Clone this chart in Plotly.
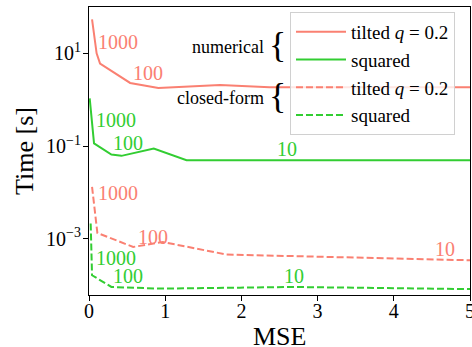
import math
import plotly.graph_objects as go

# ---- data ----
num_tilted_x = [0.04, 0.10, 0.145, 0.54, 0.91, 1.72, 2.37, 5.0]
num_tilted_y = [54, 10, 6.0, 2.3, 1.78, 2.07, 1.86, 1.85]

num_sq_x = [0.009, 0.066, 0.294, 0.426, 0.85, 1.28, 5.0]
num_sq_y = [1.07, 0.114, 0.0656, 0.0614, 0.088, 0.0496, 0.0496]

cf_tilted_x = [0.04, 0.11, 0.58, 0.97, 1.805, 5.0]
cf_tilted_y = [0.0132, 0.00133, 0.000665, 0.00085, 0.000456, 0.000343]

cf_sq_x = [0.022, 0.04, 0.294, 0.93, 1.98, 2.68, 5.0]
cf_sq_y = [0.00213, 0.000163, 0.000091, 0.000084, 0.000088, 0.000091, 0.000082]

# point labels: (x, y, text)
labels_num_tilted = [(0.377, 17.5, "1000"), (0.773, 3.75, "100")]
labels_num_sq = [(0.351, 0.362, "1000"), (0.509, 0.1156, "100"), (2.6, 0.0857, "10")]
labels_cf_tilted = [(0.377, 0.00962, "1000"), (0.84, 0.001076, "100"), (4.67, 0.000593, "10")]
labels_cf_sq = [(0.351, 0.000379, "1000"), (0.509, 0.000155, "100"), (2.69, 0.000155, "10")]

y_tickvals = [1e-3, 1e-1, 1e1]
y_ticktext = ["10<sup>−3</sup>", "10<sup>−1</sup>", "10<sup>1</sup>"]
x_tickvals = [0, 1, 2, 3, 4, 5]

RED = "#fa8072"
GREEN = "#32cd32"
FONT = "Liberation Serif, Times New Roman, serif"

fig = go.Figure()
fig.add_trace(go.Scatter(x=num_tilted_x, y=num_tilted_y, mode="lines",
                         line=dict(color=RED, width=2), name="tilted <i>q</i> = 0.2"))
fig.add_trace(go.Scatter(x=num_sq_x, y=num_sq_y, mode="lines",
                         line=dict(color=GREEN, width=2), name="squared"))
fig.add_trace(go.Scatter(x=cf_tilted_x, y=cf_tilted_y, mode="lines",
                         line=dict(color=RED, width=2, dash="7px,3px"), name="tilted <i>q</i> = 0.2"))
fig.add_trace(go.Scatter(x=cf_sq_x, y=cf_sq_y, mode="lines",
                         line=dict(color=GREEN, width=2, dash="7px,3px"), name="squared"))

annotations = []
for group, col in [(labels_num_tilted, RED), (labels_num_sq, GREEN),
                   (labels_cf_tilted, RED), (labels_cf_sq, GREEN)]:
    for (x, y, t) in group:
        annotations.append(dict(x=x, y=math.log10(y), xref="x", yref="y", text=t, showarrow=False,
                                font=dict(family=FONT, size=20, color=col),
                                xanchor="center", yanchor="middle"))

# legend group labels with braces (paper coords)
W, H = 472, 347
ml, mr, mt, mb = 89, 2, 7, 52
pw, ph = W - ml - mr, H - mt - mb
def px(xp):
    return (xp - ml) / pw
def py(yp):
    return 1 - (yp - mt) / ph

annotations += [
    dict(x=px(266), y=py(47), xref="paper", yref="paper", text="numerical", showarrow=False,
         font=dict(family=FONT, size=18, color="black"), xanchor="right", yanchor="middle"),
    dict(x=px(277), y=py(45), xref="paper", yref="paper", text="{", showarrow=False,
         font=dict(family=FONT, size=36, color="black"), xanchor="center", yanchor="middle"),
    dict(x=px(266), y=py(98), xref="paper", yref="paper", text="closed-form", showarrow=False,
         font=dict(family=FONT, size=18, color="black"), xanchor="right", yanchor="middle"),
    dict(x=px(277), y=py(96), xref="paper", yref="paper", text="{", showarrow=False,
         font=dict(family=FONT, size=36, color="black"), xanchor="center", yanchor="middle"),
    # x-axis title
    dict(x=px(279), y=py(336), xref="paper", yref="paper", text="MSE", showarrow=False,
         font=dict(family=FONT, size=26, color="black"), xanchor="center", yanchor="middle"),
]

fig.update_layout(
    width=W, height=H,
    margin=dict(l=ml, r=mr, t=mt, b=mb, autoexpand=False),
    paper_bgcolor="white", plot_bgcolor="white",
    font=dict(family=FONT, color="black"),
    showlegend=True,
    legend=dict(x=px(290), y=py(12), xanchor="left", yanchor="top",
                bgcolor="rgba(255,255,255,0.8)", bordercolor="#d0d0d0", borderwidth=1,
                font=dict(family=FONT, size=19, color="black"), itemwidth=50),
    annotations=annotations,
    xaxis=dict(range=[0, 5], tickvals=x_tickvals, showgrid=False, zeroline=False,
               showline=True, linecolor="black", linewidth=1, mirror=True, automargin=False,
               ticks="outside", ticklen=5, tickcolor="black", ticklabeloverflow="allow",
               ticklabelstandoff=-7,
               tickfont=dict(family=FONT, size=20, color="black")),
    yaxis=dict(type="log", range=[-4.214, 2.0], tickvals=y_tickvals, ticktext=y_ticktext,
               showgrid=False, zeroline=False, automargin=False,
               showline=True, linecolor="black", linewidth=1, mirror=True,
               ticks="outside", ticklen=5, tickcolor="black", ticklabelstandoff=-2,
               tickfont=dict(family=FONT, size=20, color="black"),
               title=dict(text="Time [s]", font=dict(family=FONT, size=26, color="black"), standoff=4)),
)

fig.write_html("out.html", config={"displayModeBar": False},
               post_script="document.body.style.margin='0';document.body.style.padding='0';")
